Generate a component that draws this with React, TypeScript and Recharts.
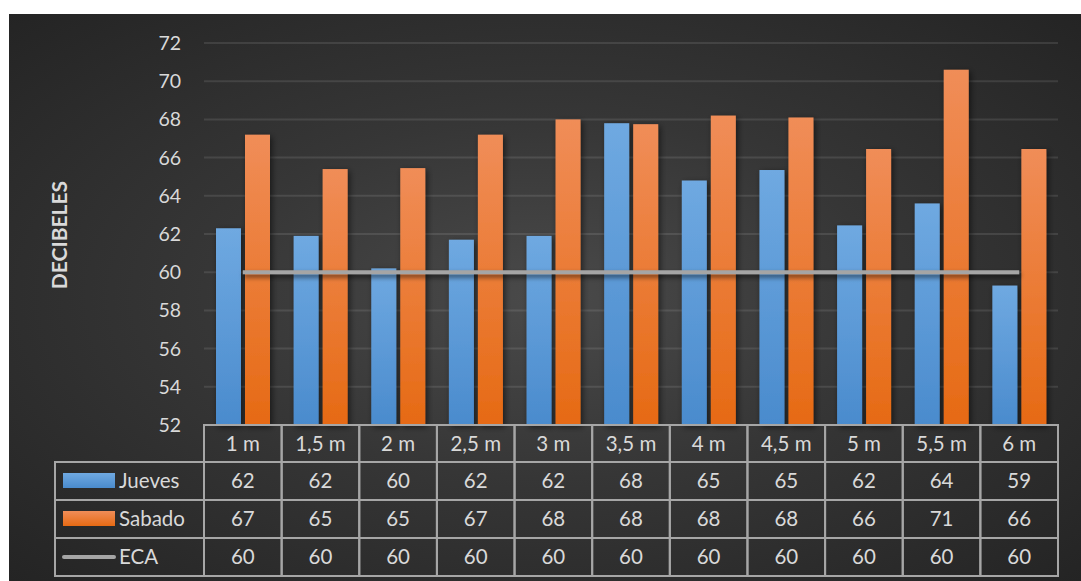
import React from 'react';
import { ComposedChart, Bar, Line, XAxis, YAxis, CartesianGrid } from 'recharts';

const categories = ['1 m', '1,5 m', '2 m', '2,5 m', '3 m', '3,5 m', '4 m', '4,5 m', '5 m', '5,5 m', '6 m'];
const jueves = [62.3, 61.9, 60.2, 61.7, 61.9, 67.8, 64.8, 65.35, 62.45, 63.6, 59.3];
const sabado = [67.2, 65.4, 65.45, 67.2, 68.0, 67.75, 68.2, 68.1, 66.45, 70.6, 66.45];
const eca = [60, 60, 60, 60, 60, 60, 60, 60, 60, 60, 60];
const yTicks = [52, 54, 56, 58, 60, 62, 64, 66, 68, 70, 72];

const data = categories.map((c, i) => ({ name: c, Jueves: jueves[i], Sabado: sabado[i], ECA: eca[i] }));

const W = 1072;
const H = 567;
const XH = 156;
const M = { top: 29, right: 23, left: 0, bottom: 0 };
const YW = 195;
const plotW = W - M.right - YW;
const band = plotW / categories.length;
const rowsY = [411, 448, 486, 524, 562];
const legendLeft = 46;
const FONT = 'Lato, "Open Sans", sans-serif';
const TXT = '#d9d9d9';
const BORDER = '#a6a6a6';

const TableTick = (props: any) => {
  const { x, index } = props;
  const i = index;
  const x0 = x - band / 2;
  const rows = [categories[i], String(Math.round(jueves[i])), String(Math.round(sabado[i])), String(Math.round(eca[i]))];
  return (
    <g>
      <rect x={x0} y={rowsY[0]} width={band} height={rowsY[4] - rowsY[0]} fill="none" stroke={BORDER} strokeWidth={2} />
      {[1, 2, 3].map((r) => (
        <line key={r} x1={x0} x2={x0 + band} y1={rowsY[r]} y2={rowsY[r]} stroke={BORDER} strokeWidth={2} />
      ))}
      {rows.map((t, r) => (
        <text key={'t' + r} x={x} y={(rowsY[r] + rowsY[r + 1]) / 2 + 7} textAnchor="middle" fill={TXT} fontSize={20.5} fontFamily={FONT}>{t}</text>
      ))}
      {i === 0 && (
        <g>
          <rect x={legendLeft} y={rowsY[1]} width={x0 - legendLeft} height={rowsY[4] - rowsY[1]} fill="none" stroke={BORDER} strokeWidth={2} />
          {[2, 3].map((r) => (
            <line key={'l' + r} x1={legendLeft} x2={x0} y1={rowsY[r]} y2={rowsY[r]} stroke={BORDER} strokeWidth={2} />
          ))}
          <rect x={legendLeft + 8} y={rowsY[1] + 11} width={52} height={15} fill="url(#gBlue)" />
          <text x={legendLeft + 64} y={rowsY[1] + 26} fill={TXT} fontSize={20.5} fontFamily={FONT}>Jueves</text>
          <rect x={legendLeft + 8} y={rowsY[2] + 11} width={52} height={15} fill="url(#gOrange)" />
          <text x={legendLeft + 64} y={rowsY[2] + 26} fill={TXT} fontSize={20.5} fontFamily={FONT}>Sabado</text>
          <line x1={legendLeft + 9} x2={legendLeft + 59} y1={rowsY[3] + 19} y2={rowsY[3] + 19} stroke="#a5a5a5" strokeWidth={4} strokeLinecap="round" />
          <text x={legendLeft + 64} y={rowsY[3] + 26} fill={TXT} fontSize={20.5} fontFamily={FONT}>ECA</text>
        </g>
      )}
    </g>
  );
};

const BarShape = (fill: string) => (props: any) => {
  const { x, y, width, height } = props;
  return <rect x={x} y={y} width={width} height={height} fill={fill} filter="url(#shadow)" />;
};

const YTick = (props: any) => {
  const { y, payload } = props;
  return (
    <text x={172} y={y + 7} textAnchor="end" fill={TXT} fontSize={19.5} fontFamily={FONT}>{payload.value}</text>
  );
};

const YLabel = () => (
  <text
    x={49}
    y={221}
    transform="rotate(-90 49 221)"
    textAnchor="middle"
    dominantBaseline="central"
    fill={TXT}
    fontSize={21}
    fontWeight="bold"
    fontFamily={FONT}
  >
    DECIBELES
  </text>
);

export default function App() {
  return (
    <div
      style={{
        position: 'absolute',
        left: 9,
        top: 14,
        width: W,
        height: H,
        background: 'radial-gradient(ellipse at 50% 50%, #4a4a4a 0%, #363636 45%, #242424 100%)',
      }}
    >
      <ComposedChart width={W} height={H} data={data} margin={M} barSize={25} barGap={4}>
        <defs>
          <linearGradient id="gBlue" x1="0" y1="0" x2="0" y2="1">
            <stop offset="0%" stopColor="#6fa9e1" />
            <stop offset="100%" stopColor="#4a8bcd" />
          </linearGradient>
          <linearGradient id="gOrange" x1="0" y1="0" x2="0" y2="1">
            <stop offset="0%" stopColor="#f08d58" />
            <stop offset="100%" stopColor="#e66a14" />
          </linearGradient>
          <filter id="shadow" x="-30%" y="-10%" width="160%" height="130%">
            <feDropShadow dx="2" dy="2" stdDeviation="3" floodColor="#000" floodOpacity="0.55" />
          </filter>
          <filter id="lineShadow" filterUnits="userSpaceOnUse" x="0" y="0" width={W} height={H}>
            <feDropShadow dx="1" dy="3" stdDeviation="2.5" floodColor="#000" floodOpacity="0.6" />
          </filter>
        </defs>
        <CartesianGrid vertical={false} stroke="rgba(255,255,255,0.1)" strokeWidth={2} />
        <XAxis dataKey="name" axisLine={false} tickLine={false} height={XH} tick={<TableTick />} interval={0} />
        <YAxis
          width={YW}
          domain={[52, 72]}
          ticks={yTicks}
          interval={0}
          axisLine={false}
          tickLine={false}
          tick={<YTick />}
          label={<YLabel />}
        />
        <Bar dataKey="Jueves" fill="url(#gBlue)" isAnimationActive={false} shape={BarShape('url(#gBlue)')} />
        <Bar dataKey="Sabado" fill="url(#gOrange)" isAnimationActive={false} shape={BarShape('url(#gOrange)')} />
        <Line dataKey="ECA" stroke="#a5a5a5" strokeWidth={4} dot={false} isAnimationActive={false} filter="url(#lineShadow)" />
      </ComposedChart>
    </div>
  );
}
